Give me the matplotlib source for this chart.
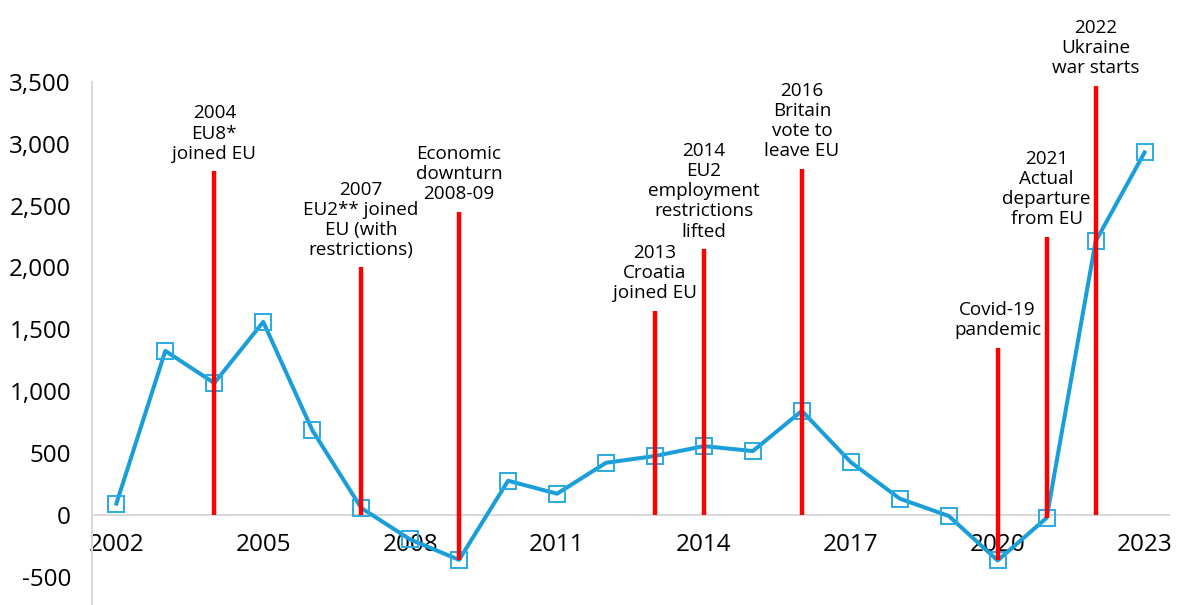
import matplotlib
matplotlib.use("Agg")
import matplotlib.pyplot as plt
from matplotlib.ticker import FuncFormatter, MultipleLocator

# Net migration series by year
years = list(range(2002, 2024))
values = [90, 1325, 1065, 1560, 685, 55, -200, -365, 275, 170, 420, 475,
          555, 515, 840, 425, 130, -10, -370, -25, 2210, 2930]

# Event markers: year, height of the red line, label
event_years = [2004, 2007, 2009, 2013, 2014, 2016, 2020, 2021, 2022]
event_tops = [2780, 2000, 2450, 1650, 2150, 2800, 1350, 2250, 3470]
event_labels = [
    "2004\nEU8*\njoined EU",
    "2007\nEU2** joined\nEU (with\nrestrictions)",
    "Economic\ndownturn\n2008-09",
    "2013\nCroatia\njoined EU",
    "2014\nEU2\nemployment\nrestrictions\nlifted",
    "2016\nBritain\nvote to\nleave EU",
    "Covid-19\npandemic",
    "2021\nActual\ndeparture\nfrom EU",
    "2022\nUkraine\nwar starts",
]
xtick_years = [2002, 2005, 2008, 2011, 2014, 2017, 2020, 2023]

plt.rcParams['font.family'] = ['Open Sans', 'DejaVu Sans']

fig = plt.figure(figsize=(11.78, 6.05), dpi=100)
ax = fig.add_axes([0.078, 0.0, 0.9144, 0.8645])

line_color = '#1a9ed9'
ax.plot(years, values, color=line_color, lw=2.9, marker='s', ms=11.5,
        mfc='none', mec='#2aaae2', mew=1.4, zorder=3)

value_by_year = dict(zip(years, values))
for yr, top, label in zip(event_years, event_tops, event_labels):
    bottom = min(0, value_by_year[yr])
    ax.vlines(yr, bottom, top, color='#ff0000', lw=3.2, zorder=4)
    ax.annotate(label, xy=(yr, top), xytext=(0, 6), textcoords='offset points',
                ha='center', va='bottom', fontsize=13.6, linespacing=1.15,
                color='black', annotation_clip=False)

ax.set_xlim(2001.5, 2023.5)
ax.set_ylim(-730, 3500)
ax.set_xticks(xtick_years)
ax.yaxis.set_major_locator(MultipleLocator(500))
ax.yaxis.set_major_formatter(FuncFormatter(lambda v, p: f"{int(v):,}"))

for side in ['top', 'right']:
    ax.spines[side].set_visible(False)
ax.spines['bottom'].set_position(('data', 0))
ax.spines['bottom'].set_color('#d9d9d9')
ax.spines['left'].set_color('#d9d9d9')
ax.spines['bottom'].set_linewidth(1.5)
ax.spines['left'].set_linewidth(1.5)

ax.tick_params(axis='x', length=0, pad=13, labelsize=17.5, colors='black')
ax.tick_params(axis='y', length=0, pad=15, labelsize=17.5, colors='black')

fig.savefig('out.png', dpi=100)
